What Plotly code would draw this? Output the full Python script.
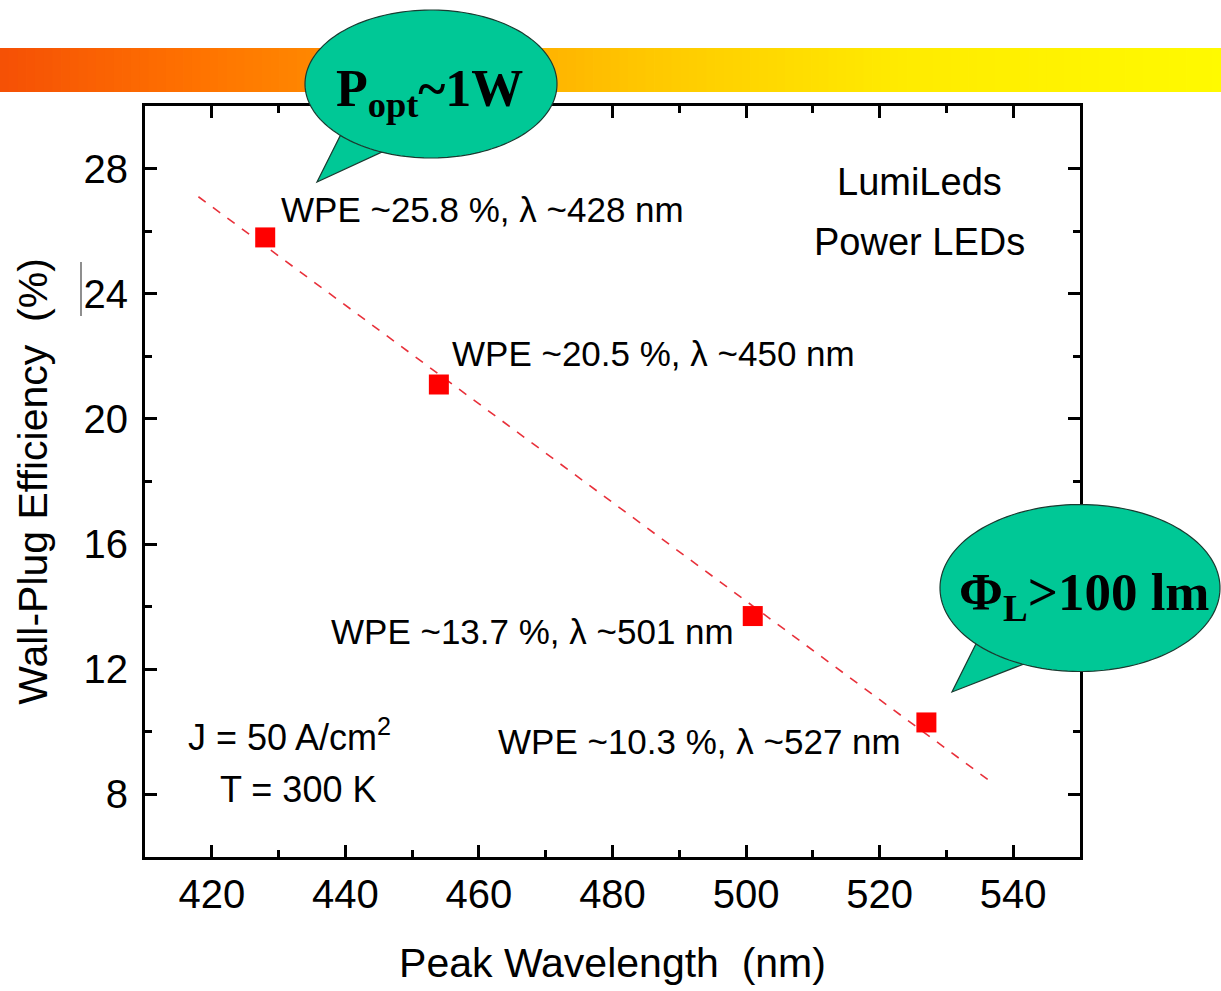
import plotly.graph_objects as go
import numpy as np

# ---- data ----
wavelength = [428, 454, 501, 527]          # nm
wpe = [25.8, 21.1, 13.7, 10.3]             # %
fit_x = [418, 537]
fit_y = [27.1, 8.35]
point_labels = ["WPE ~25.8 %, λ ~428 nm", "WPE ~20.5 %, λ ~450 nm",
                "WPE ~13.7 %, λ ~501 nm", "WPE ~10.3 %, λ ~527 nm"]
label_x = [430.0, 455.7, 437.5, 462.5]
label_y = [26.7, 22.1, 13.2, 9.7]
x_ticks = [420, 440, 460, 480, 500, 520, 540]
y_ticks = [8, 12, 16, 20, 24, 28]

W, H = 1221, 991
L, R, T, B = 145, 141, 106, 134
PW, PH = W - L - R, H - T - B

def px(xp):
    return (xp - L) / PW

def py(yp):
    return (H - B - yp) / PH

TXT = "Liberation Sans"
fig = go.Figure()
fig.add_trace(go.Scatter(x=fit_x, y=fit_y, mode="lines",
                         line=dict(color="#E8303A", width=1.6, dash="dash"),
                         showlegend=False, hoverinfo="skip"))
fig.add_trace(go.Scatter(x=wavelength, y=wpe, mode="markers",
                         marker=dict(symbol="square", size=20, color="#FF0000",
                                     line=dict(width=0)),
                         showlegend=False))

annotations = []
for t, x, y in zip(point_labels, label_x, label_y):
    annotations.append(dict(x=x, y=y, xref="x", yref="y", text=t, showarrow=False,
                            xanchor="left", yanchor="middle",
                            font=dict(family=TXT, size=35, color="black")))
annotations += [
    dict(x=526, y=27.58, xref="x", yref="y", text="LumiLeds", showarrow=False,
         xanchor="center", yanchor="middle", font=dict(family=TXT, size=38, color="black")),
    dict(x=526, y=25.66, xref="x", yref="y", text="Power LEDs", showarrow=False,
         xanchor="center", yanchor="middle", font=dict(family=TXT, size=38, color="black")),
    dict(x=416.1, y=9.89, xref="x", yref="y", text="J = 50 A/cm<sup>2</sup>", showarrow=False,
         xanchor="left", yanchor="middle", font=dict(family=TXT, size=36, color="black")),
    dict(x=420.9, y=8.16, xref="x", yref="y", text="T = 300 K", showarrow=False,
         xanchor="left", yanchor="middle", font=dict(family=TXT, size=36, color="black")),
]

shapes = []
# gradient banner (decoration)
stops = [(0, (245, 80, 5)), (200, (255, 115, 0)), (400, (255, 150, 0)),
         (650, (255, 200, 0)), (900, (255, 235, 0)), (1221, (255, 250, 0))]
def col_at(xp):
    for (x0, c0), (x1, c1) in zip(stops[:-1], stops[1:]):
        if x0 <= xp <= x1:
            f = (xp - x0) / (x1 - x0)
            return "rgb(%d,%d,%d)" % tuple(round(a + (b - a) * f) for a, b in zip(c0, c1))
    return "rgb(255,250,0)"
nstrip = 140
for i in range(nstrip):
    x0 = W * i / nstrip
    x1 = W * (i + 1) / nstrip + 0.8
    shapes.append(dict(type="rect", xref="paper", yref="paper",
                       x0=px(x0), x1=px(x1), y0=py(92), y1=py(48),
                       fillcolor=col_at((x0 + x1) / 2), line=dict(width=0), layer="below"))

def bubble(cx, cy, rx, ry, th_a, th_b, tip):
    # ellipse outline with a tail between angles th_a and th_b
    pts = []
    angs = np.linspace(np.radians(th_a), np.radians(th_b) + 2 * np.pi, 180)
    for a in angs:
        pts.append((cx + rx * np.cos(a), cy + ry * np.sin(a)))
    pts.append(tip)
    path = "M " + " L ".join("%.5f,%.5f" % (px(x), py(y)) for x, y in pts) + " Z"
    return dict(type="path", xref="paper", yref="paper", path=path,
                fillcolor="#00C896", line=dict(color="#1a3a30", width=1.2), layer="above")

shapes.append(bubble(431, 84, 126, 74, 113, 136, (317, 182)))
shapes.append(bubble(1080, 588, 140, 83.5, 114, 138, (952, 692)))
# small stray bar near the 24 label
shapes.append(dict(type="line", xref="paper", yref="paper", x0=px(81), x1=px(81),
                   y0=py(262), y1=py(316), line=dict(color="#444", width=1.2)))

annotations += [
    dict(x=px(429), y=py(92), xref="paper", yref="paper",
         text="<b>P<sub>opt</sub>~1W</b>", showarrow=False, xanchor="center", yanchor="middle",
         font=dict(family="Liberation Serif", size=52, color="black")),
    dict(x=px(1084), y=py(596), xref="paper", yref="paper",
         text="<b>Φ<sub>L</sub>>100 lm</b>", showarrow=False, xanchor="center", yanchor="middle",
         font=dict(family="Liberation Serif", size=53, color="black")),
]

axis_common = dict(showline=True, linecolor="black", linewidth=3, mirror="ticks",
                   ticks="inside", ticklen=12, tickwidth=3, tickcolor="black",
                   showgrid=False, zeroline=False,
                   tickfont=dict(family=TXT, size=40, color="black"))
fig.update_xaxes(range=[410, 550], tickvals=x_ticks,
                 minor=dict(dtick=10, tick0=0, ticks="inside", ticklen=7, tickwidth=3,
                            tickcolor="black", showgrid=False),
                 title=dict(text="Peak Wavelength\u00a0 (nm)", standoff=34,
                            font=dict(family=TXT, size=41, color="black")),
                 **axis_common)
fig.update_yaxes(range=[6, 30], tickvals=y_ticks, ticklabelstandoff=6,
                 minor=dict(dtick=2, tick0=0, ticks="inside", ticklen=7, tickwidth=3,
                            tickcolor="black", showgrid=False),
                 title=dict(text="Wall-Plug Efficiency\u00a0 (%)", standoff=24,
                            font=dict(family=TXT, size=41, color="black")),
                 **axis_common)
fig.update_layout(width=W, height=H, margin=dict(l=L, r=R, t=T, b=B, autoexpand=False),
                  paper_bgcolor="white", plot_bgcolor="white",
                  shapes=shapes, annotations=annotations, showlegend=False)
fig.write_html("out.html", config={"displayModeBar": False},
               post_script="document.body.style.margin='0px';")
